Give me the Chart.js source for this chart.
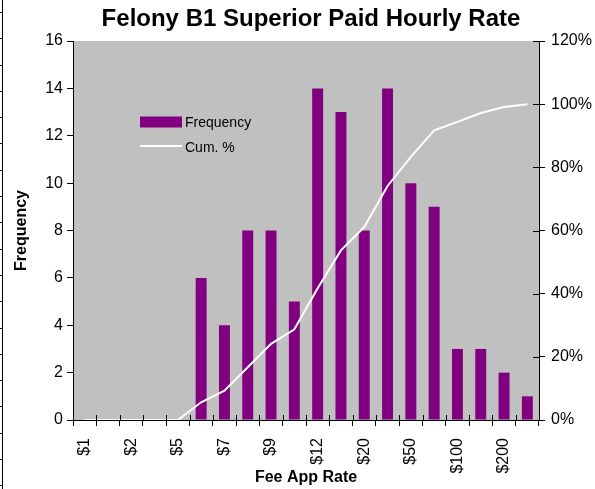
<!DOCTYPE html>
<html>
<head>
<meta charset="utf-8">
<script src="https://cdn.jsdelivr.net/npm/chart.js@4"></script>
<style>
  html, body { margin: 0; padding: 0; background: #fff; }
  #wrap { position: relative; width: 595px; height: 489px; }
  #edge { position: absolute; left: 0; top: 0; width: 2px; height: 489px; border-right: 1px solid #000;
          background: repeating-linear-gradient(to bottom, transparent 0px, transparent 12px, #000 12px, #000 13px, transparent 13px, transparent 26.3px); }
  canvas { position: absolute; left: 0; top: 0; }
</style>
</head>
<body>
<div id="wrap">
  <canvas id="c" width="595" height="489"></canvas>
  <div id="edge"></div>
</div>
<script>
const categories = ['$1','','$2','','$5','','$7','','$9','','$12','','$20','','$50','','$100','','$200',''];
const frequency = [0,0,0,0,0,6,4,8,8,5,14,13,8,14,10,9,3,3,2,1];
const cumPercent = [0,0,0,0,0,5.6,9.3,16.7,24.1,28.7,41.7,53.7,61.1,74.1,83.3,91.7,94.4,97.2,99.1,100];
const freqTicks = [0,2,4,6,8,10,12,14,16];
const pctTicks = [0,20,40,60,80,100,120];

const FONT = '"Liberation Sans", Arial, sans-serif';
const PURPLE = '#800080';

const decor = {
  id: 'decor',
  beforeDraw(chart) {
    const {ctx, chartArea: a} = chart;
    ctx.save();
    ctx.fillStyle = '#C0C0C0';
    ctx.fillRect(a.left, a.top, a.right - a.left, a.bottom - a.top);
    ctx.restore();
  },
  afterDraw(chart) {
    const {ctx, chartArea: a, scales} = chart;
    ctx.save();
    // inner halves of crossing ticks
    ctx.strokeStyle = '#000';
    ctx.lineWidth = 1;
    const xs = scales.x;
    ctx.beginPath();
    for (let i = 0; i <= categories.length; i++) {
      const px = Math.round(xs.getPixelForValue(i - 0.5)) + 0.5;
      ctx.moveTo(px, a.bottom - 5);
      ctx.lineTo(px, a.bottom);
    }
    const ys = scales.y1;
    pctTicks.forEach(v => {
      const py = Math.round(ys.getPixelForValue(v)) + 0.5;
      ctx.moveTo(a.right - 6, py);
      ctx.lineTo(a.right, py);
    });
    ctx.stroke();

    // title
    ctx.fillStyle = '#000';
    ctx.textAlign = 'center';
    ctx.textBaseline = 'middle';
    ctx.font = 'bold 24px ' + FONT;
    ctx.fillText('Felony B1 Superior Paid Hourly Rate', 311, 19);

    // x title
    ctx.font = 'bold 16px ' + FONT;
    ctx.fillText('Fee App Rate', (a.left + a.right) / 2, 478);

    // y title
    ctx.save();
    ctx.translate(22, (a.top + a.bottom) / 2);
    ctx.rotate(-Math.PI / 2);
    ctx.fillText('Frequency', 0, 0);
    ctx.restore();

    // legend
    const lx = a.left + 67, ly = a.top + 81;
    ctx.fillStyle = PURPLE;
    ctx.fillRect(lx, ly - 5.5, 42, 11);
    ctx.strokeStyle = '#fff';
    ctx.lineWidth = 2;
    ctx.beginPath();
    ctx.moveTo(lx, ly + 24);
    ctx.lineTo(lx + 42, ly + 24);
    ctx.stroke();
    ctx.fillStyle = '#000';
    ctx.textAlign = 'left';
    ctx.font = '14px ' + FONT;
    ctx.fillText('Frequency', lx + 45, ly + 1);
    ctx.fillText('Cum. %', lx + 45, ly + 26);
    ctx.restore();
  }
};

new Chart(document.getElementById('c'), {
  data: {
    labels: categories,
    datasets: [
      {
        type: 'line',
        label: 'Cum. %',
        data: cumPercent,
        yAxisID: 'y1',
        borderColor: '#FFFFFF',
        borderWidth: 2,
        pointRadius: 0,
        tension: 0,
        order: 0
      },
      {
        type: 'bar',
        label: 'Frequency',
        data: frequency,
        yAxisID: 'y',
        backgroundColor: PURPLE,
        barPercentage: 0.47,
        categoryPercentage: 1.0,
        order: 1
      }
    ]
  },
  options: {
    responsive: false,
    animation: false,
    events: [],
    layout: { padding: { top: 41, left: 0, right: 0, bottom: 0 } },
    plugins: { legend: { display: false }, title: { display: false }, tooltip: { enabled: false } },
    scales: {
      x: {
        type: 'category',
        offset: true,
        grid: { display: true, drawOnChartArea: false, offset: true, tickLength: 6, color: '#000', lineWidth: 1 },
        border: { display: true, color: '#000', width: 1 },
        ticks: { autoSkip: false, minRotation: 90, maxRotation: 90, color: '#000', padding: 12,
                 font: { family: FONT, size: 16 } },
        afterFit(s) { s.height = 69; }
      },
      y: {
        position: 'left',
        min: 0, max: 16,
        afterBuildTicks(s) { s.ticks = freqTicks.map(v => ({ value: v })); },
        grid: { display: true, drawOnChartArea: false, tickLength: 6, color: '#000', lineWidth: 1 },
        border: { display: true, color: '#000', width: 1 },
        ticks: { color: '#000', padding: 4, font: { family: FONT, size: 16 } },
        afterFit(s) { s.width = 73; }
      },
      y1: {
        position: 'right',
        min: 0, max: 120,
        afterBuildTicks(s) { s.ticks = pctTicks.map(v => ({ value: v })); },
        grid: { display: true, drawOnChartArea: false, tickLength: 6, color: '#000', lineWidth: 1 },
        border: { display: true, color: '#000', width: 1 },
        ticks: { color: '#000', padding: 6, font: { family: FONT, size: 16 }, callback: v => v + '%' },
        afterFit(s) { s.width = 56; }
      }
    }
  },
  plugins: [decor]
});
</script>
</body>
</html>
